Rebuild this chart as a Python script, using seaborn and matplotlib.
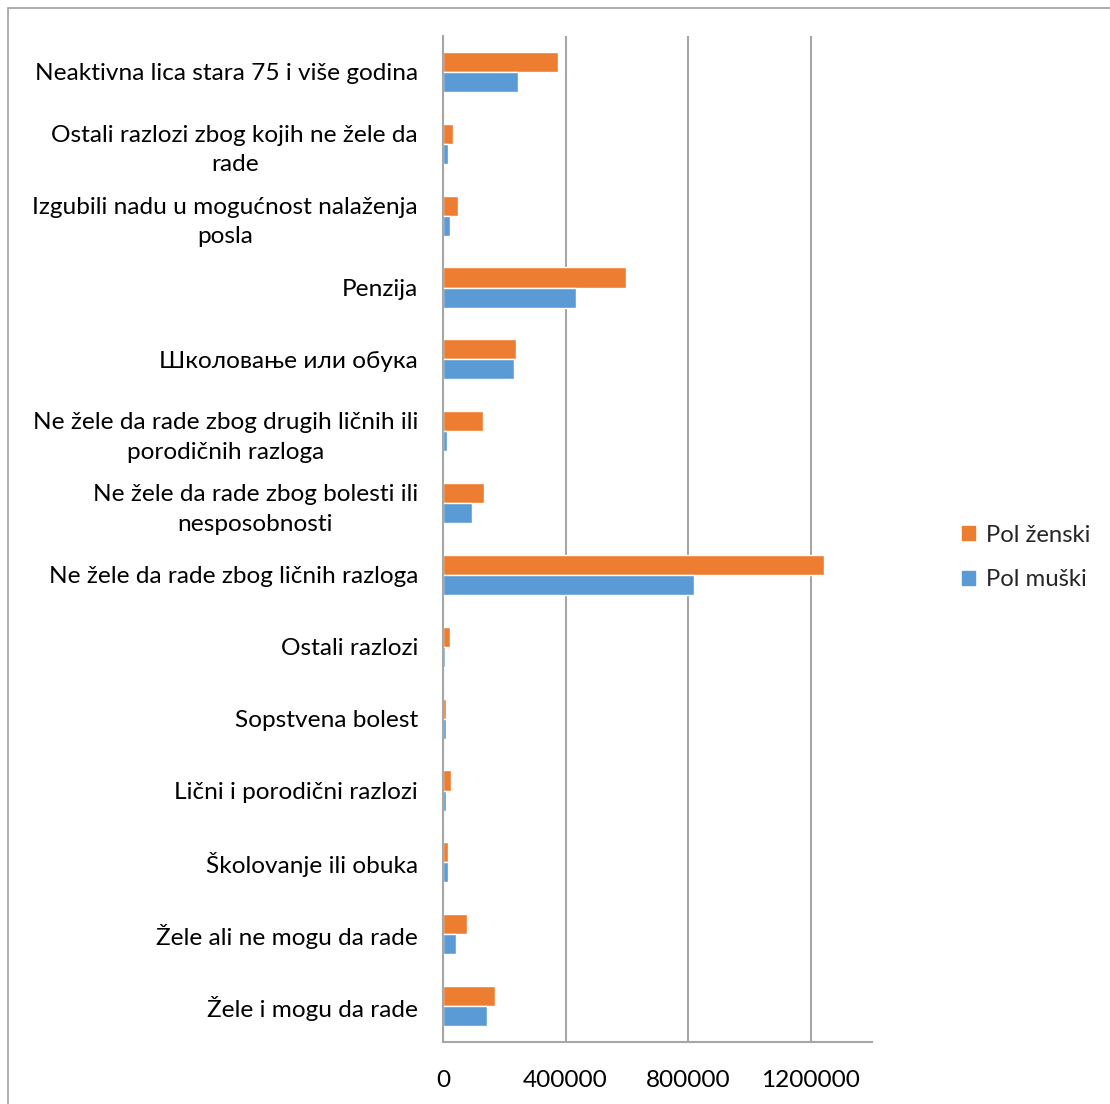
import matplotlib
matplotlib.use("Agg")
import matplotlib.pyplot as plt
import matplotlib.patches as mpatches
import pandas as pd
import seaborn as sns

categories = [
    "Neaktivna lica stara 75 i više godina",
    "Ostali razlozi zbog kojih ne žele da\nrade",
    "Izgubili nadu u mogućnost nalaženja\nposla",
    "Penzija",
    "Школовање или обука",
    "Ne žele da rade zbog drugih ličnih ili\nporodičnih razloga",
    "Ne žele da rade zbog bolesti ili\nnesposobnosti",
    "Ne žele da rade zbog ličnih razloga",
    "Ostali razlozi",
    "Sopstvena bolest",
    "Lični i porodični razlozi",
    "Školovanje ili obuka",
    "Žele ali ne mogu da rade",
    "Žele i mogu da rade",
]
pol_zenski = [376500, 33900, 50200, 598400, 237200, 131800, 135000,
              1242000, 21900, 11000, 27400, 17600, 78300, 171000]
pol_muski = [246000, 16300, 22800, 434000, 230700, 12000, 94600,
             818000, 5500, 9800, 8800, 16300, 41400, 143600]
series_names = ["Pol ženski", "Pol muški"]
x_ticks = [0, 400000, 800000, 1200000]

orange = "#ED7D31"
blue = "#5B9BD5"
grid_gray = "#A6A6A6"

df = pd.DataFrame({
    "kategorija": categories * 2,
    "vrednost": pol_zenski + pol_muski,
    "pol": [series_names[0]] * len(categories) + [series_names[1]] * len(categories),
})

sns.set_style("white")
plt.rcParams["font.family"] = ["Lato", "DejaVu Sans"]
FS = 17.6

W, H = 1110, 1104
fig = plt.figure(figsize=(W / 100, H / 100), dpi=100)
ax = fig.add_axes([443 / W, 62 / H, (872 - 443) / W, (1042 - 36) / H])

sns.barplot(
    data=df, x="vrednost", y="kategorija", hue="pol",
    hue_order=series_names, order=categories,
    palette=[orange, blue], orient="h", width=0.56,
    saturation=1, legend=False, ax=ax,
)

ax.set_xlim(0, 1400000)
ax.set_ylim(len(categories) - 0.5, -0.5)
ax.set_xticks(x_ticks)
ax.set_xticklabels([str(v) for v in x_ticks])
ax.set_xlabel("")
ax.set_ylabel("")
ax.xaxis.grid(True, color=grid_gray, linewidth=1.5)
ax.yaxis.grid(False)
ax.set_axisbelow(True)

for side in ["top", "right"]:
    ax.spines[side].set_visible(False)
for side in ["left", "bottom"]:
    ax.spines[side].set_color(grid_gray)
    ax.spines[side].set_linewidth(1.5)

ax.tick_params(axis="both", length=0, labelsize=FS, colors="black")
ax.tick_params(axis="x", pad=20)
ax.tick_params(axis="y", pad=18)
for lbl in ax.get_yticklabels():
    lbl.set_multialignment("center")
    lbl.set_linespacing(1.5)

handles = [mpatches.Patch(color=orange, label=series_names[0]),
           mpatches.Patch(color=blue, label=series_names[1])]
fig.legend(
    handles=handles, loc="center left",
    bbox_to_anchor=(962 / W, 1 - 557.5 / H),
    frameon=False, fontsize=17.2, borderpad=0, borderaxespad=0,
    handlelength=0.55, handleheight=0.55, handletextpad=0.45,
    labelspacing=1.0,
)

# outer chart border
fig.add_artist(mpatches.Rectangle(
    (8 / W, -0.1), 1.2, 1 - 8 / H + 0.1,
    transform=fig.transFigure, fill=False,
    edgecolor="#A0A0A0", linewidth=1.2,
))

fig.savefig("out.png", dpi=100)
